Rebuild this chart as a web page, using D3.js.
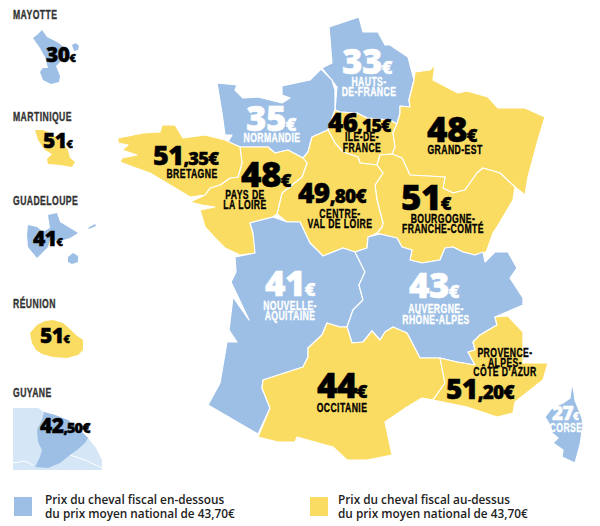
<!DOCTYPE html>
<html>
<head>
<meta charset="utf-8">
<script src="https://cdn.jsdelivr.net/npm/d3@7"></script>
<style>
  body { margin: 0; background: #fff; }
  .price { font-family: "Open Sans", sans-serif; font-weight: 800; stroke-width: .45px; paint-order: stroke; }
  .name { font-family: "Liberation Sans", sans-serif; font-weight: 700; font-size: 12px; letter-spacing: .6px; stroke-width: .35px; }
  .legend { font-family: "Open Sans", sans-serif; font-weight: 600; font-size: 11.8px; fill: #222; }
</style>
</head>
<body>
<div id="chart"></div>
<script>
const nationalAverage = 43.70;

const regions = ['hdf', 'nor', 'idf', 'ges', 'bfc', 'cvl', 'pdl', 'bre', 'naq', 'ara', 'occ', 'pac', 'cor', 'may', 'mar', 'gua', 'reu', 'guy'];
const prices = [33, 35, 46.15, 48, 51, 49.80, 48, 51.35, 41, 43, 44, 51.20, 27, 30, 51, 41, 51, 42.50];
const nameLines = [
  ['HAUTS-', 'DE-FRANCE'], ['NORMANDIE'], ['ILE-DE-', 'FRANCE'], ['GRAND-EST'], ['BOURGOGNE-', 'FRANCHE-COMTÉ'],
  ['CENTRE-', 'VAL DE LOIRE'], ['PAYS DE', 'LA LOIRE'], ['BRETAGNE'], ['NOUVELLE-', 'AQUITAINE'],
  ['AUVERGNE-', 'RHÔNE-ALPES'], ['OCCITANIE'], ['PROVENCE-', 'ALPES-', 'CÔTE D\'AZUR'], ['CORSE'],
  ['MAYOTTE'], ['MARTINIQUE'], ['GUADELOUPE'], ['RÉUNION'], ['GUYANE']
];
const legendLines = [
  ['Prix du cheval fiscal en-dessous', 'du prix moyen national de 43,70€'],
  ['Prix du cheval fiscal au-dessus', 'du prix moyen national de 43,70€']
];

const outlines = [
  [[[329,27],[359,17],[363,32],[378,32],[385,45],[390,45],[408,57],[414,80],[409,100],[410,107],[400,106],[400,113],[397,124],[390,120],[367,118],[357,113],[340,112],[335,110],[337,87],[322,68],[332,63]]],
  [[[217,83],[237,85],[235,90],[243,98],[258,97],[282,103],[290,98],[282,95],[282,86],[310,80],[321,69],[332,80],[335,90],[335,110],[328,130],[312,137],[308,152],[303,158],[288,150],[275,153],[268,147],[240,147],[228,142],[232,135],[225,135],[222,113]]],
  [[[335,110],[340,112],[357,113],[367,118],[390,120],[397,124],[393,133],[395,147],[392,154],[380,155],[377,165],[360,163],[358,157],[343,152],[335,143],[328,130]]],
  [[[414,80],[415,72],[430,70],[435,64],[433,80],[458,93],[467,91],[488,97],[498,108],[525,108],[545,117],[538,140],[528,177],[525,195],[515,187],[500,173],[483,168],[477,173],[465,190],[453,193],[443,188],[445,177],[410,175],[402,158],[392,154],[395,147],[393,133],[397,124],[400,113],[400,106],[410,107],[409,100]]],
  [[[380,155],[392,154],[402,158],[410,175],[445,177],[443,188],[453,193],[465,190],[477,173],[483,168],[500,173],[515,187],[513,200],[497,227],[493,233],[487,250],[485,253],[475,255],[463,252],[453,247],[445,248],[440,260],[422,263],[410,260],[412,250],[402,247],[397,238],[380,234],[377,233],[382,227],[383,223],[377,200],[375,185],[383,173],[377,165]]],
  [[[312,137],[328,130],[335,143],[343,152],[358,157],[360,163],[377,165],[383,173],[375,185],[377,200],[383,223],[382,227],[377,233],[368,237],[367,248],[355,252],[343,248],[323,256],[310,243],[300,222],[287,222],[277,214],[282,193],[302,177],[307,163],[303,158],[308,152]]],
  [[[240,147],[268,147],[275,153],[288,150],[303,158],[307,163],[302,177],[282,193],[277,214],[273,217],[250,223],[253,233],[257,253],[240,255],[225,248],[215,238],[205,227],[200,210],[215,207],[202,205],[190,202],[205,195],[210,188],[220,185],[230,178],[238,177],[242,163]]],
  [[[118,138],[143,133],[160,132],[162,125],[175,125],[183,138],[205,135],[225,140],[240,147],[242,163],[238,177],[230,178],[220,185],[210,188],[205,195],[190,197],[165,182],[150,173],[133,167],[120,162],[122,158],[137,155],[122,150],[128,145],[118,143]]],
  [[[250,223],[273,217],[287,222],[300,222],[310,243],[323,256],[343,248],[355,252],[365,272],[359,285],[363,300],[353,310],[347,327],[340,327],[327,323],[322,335],[308,348],[308,357],[303,367],[263,380],[262,388],[270,408],[258,434],[208,405],[220,383],[227,342],[237,342],[229,330],[233,297],[249,320],[231,282],[236,272],[235,257],[255,253],[253,233]]],
  [[[355,252],[367,248],[368,237],[380,234],[397,238],[402,247],[412,250],[410,260],[422,263],[440,260],[445,248],[453,247],[463,252],[475,255],[483,252],[485,262],[495,252],[508,252],[517,268],[510,278],[523,298],[523,305],[495,317],[497,325],[480,335],[473,342],[475,350],[468,352],[475,365],[457,362],[440,358],[420,358],[407,333],[393,327],[385,332],[380,340],[372,331],[363,342],[352,343],[347,327],[353,310],[363,300],[359,285],[365,272]]],
  [[[327,323],[340,327],[347,327],[352,343],[363,342],[372,331],[380,340],[385,332],[393,327],[407,333],[420,358],[440,358],[445,383],[433,400],[422,398],[407,407],[385,422],[392,455],[367,460],[347,460],[333,447],[297,437],[295,442],[278,442],[258,437],[270,408],[262,388],[263,380],[303,367],[308,357],[308,348],[322,335]]],
  [[[495,317],[508,316],[523,332],[523,363],[548,363],[543,380],[515,402],[513,413],[497,417],[467,407],[433,400],[445,383],[440,358],[457,362],[475,365],[468,352],[475,350],[473,342],[480,335],[497,325]]],
  [[[572,383],[574,392],[575,400],[582,418],[583,425],[580,445],[575,463],[562,457],[563,450],[553,443],[558,438],[552,433],[550,425],[545,417],[552,408],[563,403],[570,398]]],
  [[[42,30],[47,37],[57,42],[64,47],[65,55],[60,62],[56,66],[60,76],[59,82],[51,84],[43,80],[40,72],[43,68],[48,68],[45,57],[40,48],[33,38],[37,35]], [[72,45],[76,43],[79,46],[78,50],[74,51]]],
  [[[35,130],[43,130],[50,133],[60,140],[68,150],[70,158],[75,162],[72,167],[60,165],[48,164],[47,159],[52,154],[45,150],[38,140]]],
  [[[28,225],[37,227],[43,232],[50,228],[48,215],[57,213],[60,222],[70,228],[78,233],[70,238],[60,241],[50,240],[48,247],[37,258],[28,247],[27,235]], [[68,257],[73,253],[78,256],[78,262],[72,264],[68,262]], [[88,228],[95,224],[96,226],[89,229]]],
  [[[30,333],[37,325],[45,321],[53,320],[63,323],[70,329],[76,335],[83,340],[83,350],[78,355],[67,358],[53,357],[42,354],[36,350],[32,343]]],
  [[[44,412],[55,415],[68,420],[80,430],[88,438],[85,443],[77,450],[70,455],[60,463],[48,468],[35,467],[40,457],[42,450],[38,442],[37,430],[42,420]]]
];
const guyaneSurroundings = [[[13,408],[38,408],[44,412],[55,415],[68,420],[80,430],[88,438],[96,448],[102,460],[102,470],[13,470]]];
const guyaneBorders = [[[13,463],[25,461],[33,465]], [[70,455],[85,460],[102,468]]];

// label layout: price x, baseline, size, then name centre x, first baseline, line step
const priceLayout = [
  [342,74,35], [246,131,35], [328,132,26], [427,142,35], [401,210,35], [298,203,28], [241,187,35], [153,165,27], [265,296,35],
  [409,298,35], [317,398,35], [446,399,28], [552,420,19], [46,62,21], [43,148,21], [33,246,21], [40,343,21], [40,433,21]
];
const nameLayout = [
  [369,86,10], [272,142,0], [362,141,10.5], [455,154,0], [443,223,9.5], [340,218,10], [245,199,9.5], [192,178,0], [290,310,10],
  [436,313,11], [342,412,0], [505,357,9.5], [566,432,0], [13,19,0], [13,121,0], [13,205,0], [13,308,0], [13,397,0]
];
const insetFirst = regions.indexOf('may');
const nameSqueeze = 0.72;

const width = 600, height = 526;
const blue = '#9dbfe5', yellow = '#fbdc63';
const color = d3.scaleThreshold().domain([nationalAverage]).range([blue, yellow]);
const path = d3.geoPath(d3.geoIdentity());

// GeoJSON rings repeat their first point
const closeRing = r => r.concat([r[0]]);

const svg = d3.select('#chart').append('svg')
  .attr('width', width)
  .attr('height', height)
  .style('display', 'block');

svg.append('path')
  .datum({ type: 'Polygon', coordinates: guyaneSurroundings.map(closeRing) })
  .attr('fill', '#d5e6f6')
  .attr('d', path);

svg.append('path')
  .datum({ type: 'MultiLineString', coordinates: guyaneBorders })
  .attr('fill', 'none')
  .attr('stroke', '#fff')
  .attr('d', path);

svg.append('g').selectAll('path')
  .data(regions)
  .join('path')
  .attr('d', (d, i) => path({ type: 'MultiPolygon', coordinates: outlines[i].map(r => [closeRing(r)]) }))
  .attr('fill', (d, i) => color(prices[i]))
  .attr('stroke', (d, i) => i < insetFirst ? '#fff' : 'none')
  .attr('stroke-width', 1.2)
  .attr('stroke-linejoin', 'round');

function textColor(i) {
  return color(prices[i]) === blue && i < insetFirst ? '#fff' : '#000';
}

// price labels: whole euros large, cents and euro sign smaller
const price = svg.append('g').selectAll('text')
  .data(regions)
  .join('text')
  .attr('class', 'price')
  .attr('x', (d, i) => priceLayout[i][0])
  .attr('y', (d, i) => priceLayout[i][1])
  .attr('font-size', (d, i) => priceLayout[i][2])
  .attr('fill', (d, i) => textColor(i))
  .attr('stroke', (d, i) => textColor(i))
  .attr('letter-spacing', -0.6);

price.append('tspan').text((d, i) => Math.floor(prices[i]));
price.append('tspan')
  .attr('font-size', (d, i) => priceLayout[i][2] * 0.68)
  .attr('letter-spacing', -0.8)
  .text((d, i) => {
    const cents = Math.round((prices[i] % 1) * 100);
    return cents ? ',' + String(cents).padStart(2, '0') : '';
  });
price.append('tspan')
  .attr('font-size', (d, i) => priceLayout[i][2] * (prices[i] % 1 ? 0.68 : 0.52))
  .text('€');

regions.forEach((d, i) => {
  const [x, y, step] = nameLayout[i];
  const inset = i >= insetFirst;
  svg.append('g').selectAll('text')
    .data(nameLines[i])
    .join('text')
    .attr('class', 'name')
    .attr('text-anchor', inset ? 'start' : 'middle')
    .attr('fill', inset ? '#333' : textColor(i))
    .attr('stroke', inset ? '#333' : textColor(i))
    .attr('transform', (l, j) => `translate(${x},${y + j * step}) scale(${nameSqueeze},1)`)
    .text(l => l);
});

// legend
const legend = svg.append('g').selectAll('g')
  .data([blue, yellow])
  .join('g')
  .attr('transform', (d, i) => `translate(${i ? 310 : 14},497)`);

legend.append('rect')
  .attr('width', 18)
  .attr('height', 19)
  .attr('fill', d => d);

legend.append('text')
  .attr('class', 'legend')
  .selectAll('tspan')
  .data((d, i) => legendLines[i])
  .join('tspan')
  .attr('x', (l, j, nodes) => nodes[0].parentNode.__data__ === blue ? 31 : 28)
  .attr('y', (l, j) => 7 + j * 14)
  .text(l => l);
</script>
</body>
</html>
